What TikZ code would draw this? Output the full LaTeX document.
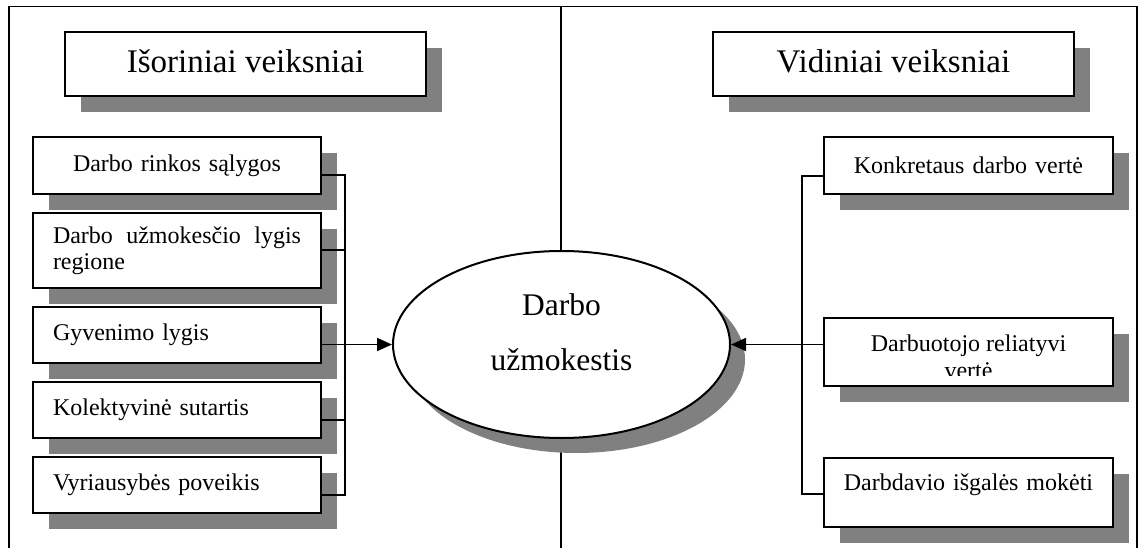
\documentclass[tikz,border=0pt]{standalone}
\usepackage{fontspec}
\setmainfont{Liberation Serif}
\usetikzlibrary{shapes.geometric,shadows,arrows.meta}
\definecolor{shadowgray}{RGB}{128,128,128}
\begin{document}
\begin{tikzpicture}[x=1pt,y=-1pt]
            \tikzstyle{shade}=[drop shadow={shadow xshift=16pt, shadow yshift=-16pt, fill=shadowgray, opacity=1}]
            \tikzstyle{heading}=[draw, shade, line width=2pt, fill=white, minimum width=361pt, minimum height=64pt, inner sep=0pt, text height=24pt, text depth=6pt, font=\fontsize{33}{36}\selectfont]
            \tikzstyle{factor}=[draw, shade, line width=2pt, fill=white, minimum height=56pt, inner ysep=0pt, font=\fontsize{24}{26}\selectfont]
            \tikzstyle{outer}=[factor, text width=248pt, inner xsep=20pt, align=left]
            \tikzstyle{inner}=[factor, text width=279pt, inner xsep=5pt, align=center]
            \tikzstyle{wire}=[line width=1.8pt]
            \tikzstyle{arrow}=[wire, -{Triangle[length=15pt,width=13pt]}]
            \useasboundingbox (0,0) rectangle (1139,548);
            % frame
            \draw[wire] (9,548) -- (9,6.5) -- (1137,6.5) -- (1137,548);
            \draw[wire] (561,6.5) -- (561,548);
            % headings
            \node[heading] (out) at (245.5,64) {Išoriniai veiksniai};
            \node[heading] (in) at (893.5,64) {Vidiniai veiksniai};
            % external factors
            \node[outer, minimum height=57pt, align=center] (l1) at (177,165.5) {Darbo rinkos sąlygos};
            \node[outer, minimum height=75pt, align=justify] (l2) at (177,250.5) {Darbo užmokesčio lygis regione};
            \node[outer] (l3) at (177,335) {Gyvenimo lygis};
            \node[outer] (l4) at (177,410) {Kolektyvinė sutartis};
            \node[outer] (l5) at (177,485) {Vyriausybės poveikis};
            % internal factors
            \node[inner, minimum height=57pt] (r1) at (968.5,165.5) {Konkretaus darbo vertė};
            \node[inner, minimum height=68pt] (r2) at (968.5,352) {};
            \begin{scope}
              \clip (824,318) rectangle (1113,375.5);
              \node[anchor=base, align=center, inner sep=0pt, font=\fontsize{24}{27}\selectfont] (r2text) at (968.5,378) {Darbuotojo reliatyvi\\vertė};
            \end{scope}
            \node[inner, minimum height=69pt, text depth=21pt] (r3) at (968.5,492.5) {Darbdavio išgalės mokėti};
            % wage
            \node[ellipse, draw, line width=2pt, fill=white, minimum width=337pt, minimum height=187pt, drop shadow={shadow xshift=15pt, shadow yshift=-15pt, fill=shadowgray, opacity=1}] (wage) at (561.5,344.5) {};
            \node[anchor=base, align=center, inner sep=0pt, font=\fontsize{31.5}{55}\selectfont] (wagetext) at (561.5,370.5) {Darbo\\užmokestis};
            % connectors
            \coordinate (lj1) at (345,175);
            \coordinate (lj2) at (345,250);
            \coordinate (lj4) at (345,420);
            \coordinate (lj5) at (345,495);
            \draw[wire] (l1.east |- lj1) -- (lj1) -- (lj5) -- (l5.east |- lj5);
            \draw[wire] (l2.east |- lj2) -- (lj2);
            \draw[wire] (l4.east |- lj4) -- (lj4);
            \draw[arrow] (l3.east |- wage.west) -- (wage.west);
            \coordinate (rj1) at (802,176);
            \coordinate (rj3) at (802,494);
            \draw[wire] (r1.west |- rj1) -- (rj1) -- (rj3) -- (r3.west |- rj3);
            \draw[arrow] (r2.west |- wage.east) -- (wage.east);
\end{tikzpicture}
\end{document}
